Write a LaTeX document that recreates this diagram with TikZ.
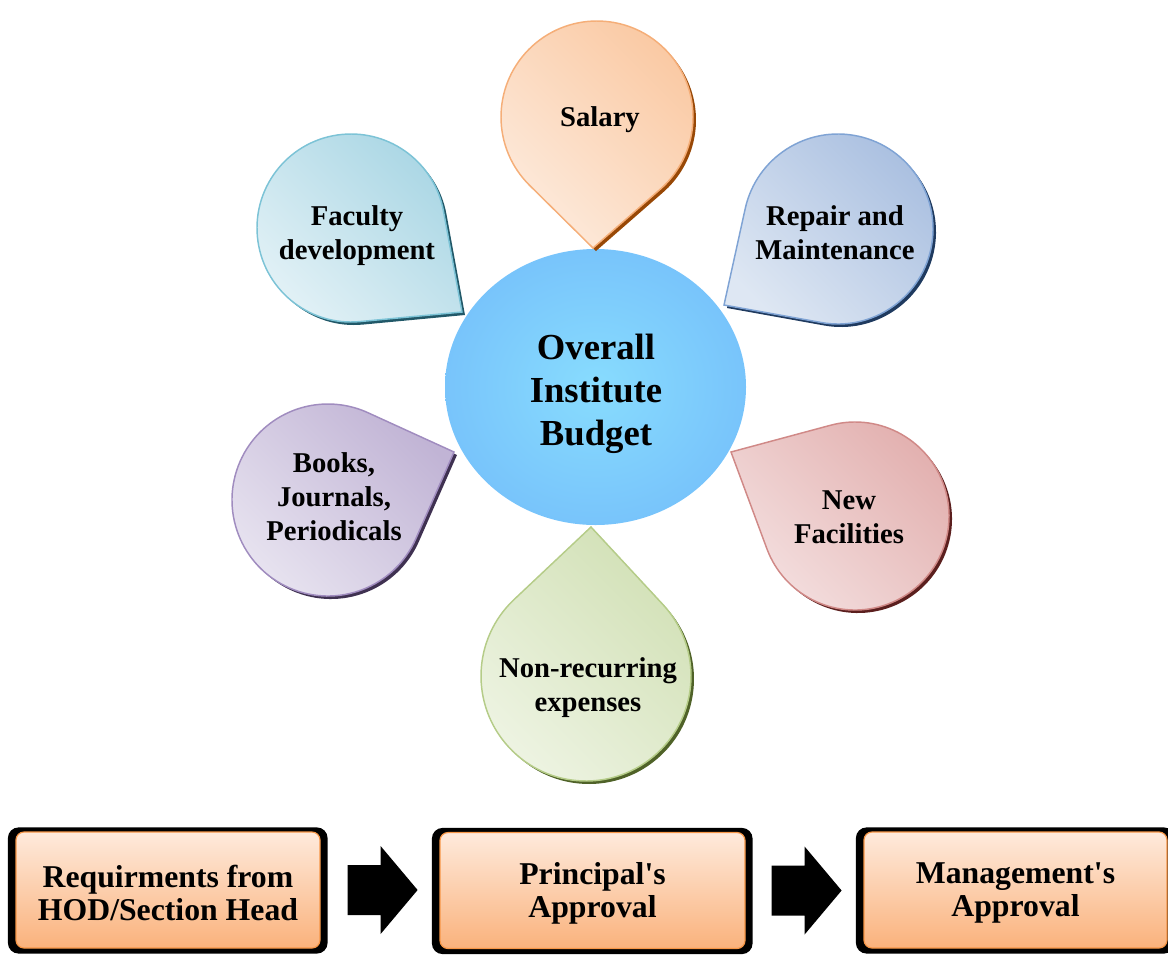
\documentclass[tikz,border=0pt]{standalone}
\usepackage{fontspec}
\setmainfont{Liberation Serif}[Ligatures=TeXReset]
\usetikzlibrary{calc,backgrounds,shapes.geometric}

\definecolor{salB}{HTML}{F5AE78}\definecolor{salD}{HTML}{FAC9A3}\definecolor{salL}{HTML}{FDEBDD}\definecolor{salS}{HTML}{984806}
\definecolor{repB}{HTML}{7FA3D4}\definecolor{repD}{HTML}{A9BFE0}\definecolor{repL}{HTML}{DEE7F3}\definecolor{repS}{HTML}{1F3A5F}
\definecolor{newB}{HTML}{D08987}\definecolor{newD}{HTML}{E2AFAE}\definecolor{newL}{HTML}{F4E0E0}\definecolor{newS}{HTML}{5B1F1E}
\definecolor{nonB}{HTML}{B5CC88}\definecolor{nonD}{HTML}{D1E0B5}\definecolor{nonL}{HTML}{EEF4E3}\definecolor{nonS}{HTML}{4F6228}
\definecolor{bokB}{HTML}{A08CBF}\definecolor{bokD}{HTML}{C1B4D5}\definecolor{bokL}{HTML}{E9E5F1}\definecolor{bokS}{HTML}{3F3151}
\definecolor{facB}{HTML}{7CC3D6}\definecolor{facD}{HTML}{A9D6E4}\definecolor{facL}{HTML}{E2F1F6}\definecolor{facS}{HTML}{215868}
\definecolor{coreIn}{HTML}{88DCFE}\definecolor{coreOut}{HTML}{78C4FB}
\definecolor{boxTop}{HTML}{FEEADC}\definecolor{boxBot}{HTML}{FAB27C}\definecolor{boxBorder}{HTML}{F79646}

% teardrop: {cx}{cy}{r}{tipx}{tipy}{shadow colour}{border}{dark}{light}
\newcommand\tdrop[9]{%
  \pgfmathsetmacro\tdang{atan2(#5-#2,#4-#1)}%
  \pgfmathsetmacro\tdd{veclen(#4-#1,#5-#2)}%
  \pgfmathsetmacro\tdal{acos(#3/\tdd)}%
  \pgfmathsetmacro\tdsa{\tdang+\tdal}%
  \pgfmathsetmacro\tdea{\tdang+360-\tdal}%
  \fill[#6] ($(#4,#5)+(3,3)$) -- ($(#1,#2)+(3,3)+(\tdsa:#3)$)
     arc[start angle=\tdsa, end angle=\tdea, radius=#3] -- cycle;
  \draw[petalline, draw=#7, top color=#8, bottom color=#9, shading angle=-45]
     (#4,#5) -- ($(#1,#2)+(\tdsa:#3)$)
     arc[start angle=\tdsa, end angle=\tdea, radius=#3] -- cycle;
}

\tikzset{
  petalline/.style={line width=1.1pt, line join=miter},
  petaltext/.style={font=\fontsize{21.5}{25.5}\selectfont\bfseries, align=center, text=black, inner sep=0pt},
  corestyle/.style={ellipse, minimum width=225.75pt, minimum height=207pt, inner sep=0pt,
     inner color=coreIn, outer color=coreOut},
  coretext/.style={align=center, inner sep=0pt, font=\fontsize{27.5}{32.3}\selectfont\bfseries},
  stepbox/.style={rectangle, rounded corners=6pt, draw=boxBorder, line width=0.9pt,
     top color=boxTop, bottom color=boxBot, align=center, inner sep=0pt,
     minimum height=87pt},
  steptext/.style={align=center, inner sep=0pt, font=\fontsize{23.8}{24.8}\selectfont\bfseries},
  boxback/.style={fill=black, rounded corners=8pt},
  blockarrow/.style={fill=black},
}

\begin{document}
\begin{tikzpicture}[x=0.75pt, y=-0.75pt]
\useasboundingbox (0,0) rectangle (1168,954);

% centre
\node[corestyle] (core) at (595.5,387) {};
\node[coretext] (coretxt) at (596,394) {Overall\\Institute\\Budget};

% petals
\tdrop{597}{117}{96}{593}{248}{salS}{salB}{salD}{salL}
\tdrop{838}{229}{95}{724}{305}{repS}{repB}{repD}{repL}
\tdrop{855}{516}{94}{731}{452}{newS}{newB}{newD}{newL}
\tdrop{586}{676}{105}{591}{527}{nonS}{nonB}{nonD}{nonL}
\tdrop{328}{500}{96}{454}{452}{bokS}{bokB}{bokD}{bokL}
\tdrop{351}{228}{94}{462}{312}{facS}{facB}{facD}{facL}

\node[petaltext] (salary) at (600,120) {Salary};
\node[petaltext] (repair) at (835,233) {Repair and\\Maintenance};
\node[petaltext] (newfac) at (849,517) {New\\Facilities};
\node[petaltext] (nonrec) at (588,688) {Non-recurring\\expenses};
\node[petaltext] (books) at (334,497) {Books,\\Journals,\\Periodicals};
\node[petaltext] (faculty) at (357,236) {Faculty\\development};

% process boxes
\node[stepbox, minimum width=228pt] (b1) at (168,890) {};
\node[stepbox, minimum width=228.75pt] (b2) at (592.5,890.5) {};
\node[stepbox, minimum width=227.25pt] (b3) at (1015.5,890) {};
\node[steptext] (t1) at (168,893) {Requirments from\\HOD/Section Head};
\node[steptext] (t2) at (592.5,893) {Principal's\\Approval};
\node[steptext] (t3) at (1015.5,893) {Management's\\Approval};

\begin{scope}[on background layer]
  \foreach \b in {b1,b2,b3}
    \fill[boxback] ($(\b.south west)+(-7.5,5)$) rectangle ($(\b.north east)+(7,-4)$);
\end{scope}

% block arrows
\fill[blockarrow] ($(b1.east)+(27,-25)$) -- ++(33,0) -- ++(0,-19) -- ++(37,44) -- ++(-37,44) -- ++(0,-19) -- ++(-33,0) -- cycle;
\fill[blockarrow] ($(b2.east)+(26,-25)$) -- ++(33,0) -- ++(0,-19) -- ++(37,44) -- ++(-37,44) -- ++(0,-19) -- ++(-33,0) -- cycle;
\end{tikzpicture}
\end{document}
